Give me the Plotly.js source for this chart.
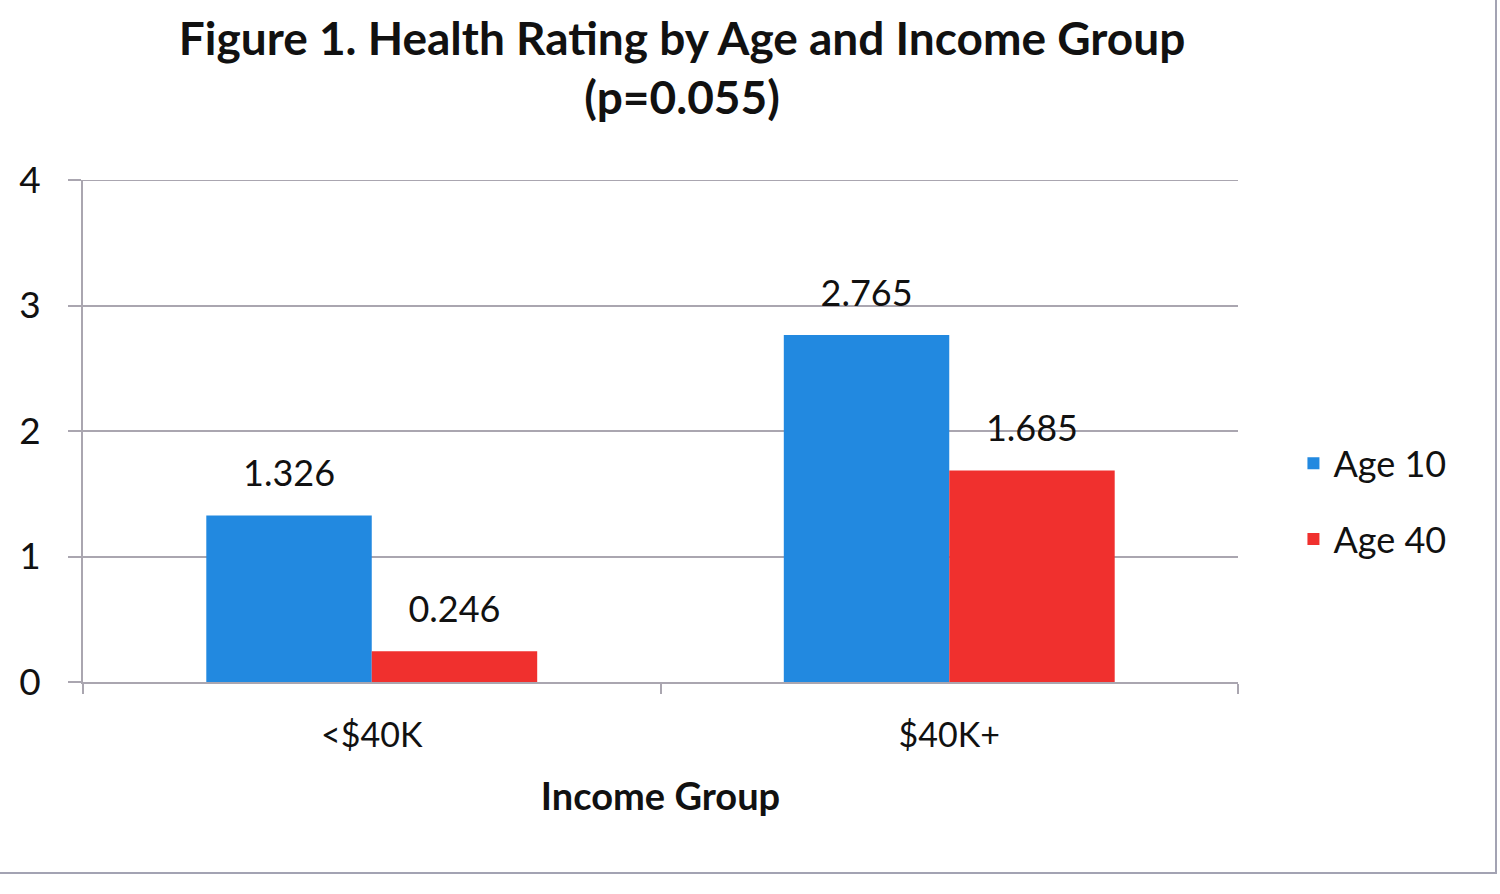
<!DOCTYPE html>
<html>
<head>
<meta charset="utf-8">
<script src="https://cdn.plot.ly/plotly-3.0.1.min.js"></script>
<style>
  html, body { margin: 0; padding: 0; background: #ffffff; }
  #wrap { position: relative; width: 1500px; height: 894px; overflow: hidden; }
  #chart { position: absolute; left: 0; top: 0; width: 1500px; height: 894px; }
  #frame { position: absolute; left: -4px; top: -4px; width: 1499px; height: 876px;
           border-right: 2px solid #a3a3b3; border-bottom: 2px solid #a3a3b3; pointer-events: none; }
</style>
</head>
<body>
<div id="wrap">
  <div id="chart"></div>
  <div id="frame"></div>
</div>
<script>
// ---- data ----
const categories = ["<$40K", "$40K+"];
const seriesNames = ["Age 10", "Age 40"];
const age10 = [1.326, 2.765];
const age40 = [0.246, 1.685];
const yTicks = [0, 1, 2, 3, 4];

const FONT = "Lato, 'Open Sans', sans-serif";
const gridCol = "#aaa6b0";

function labels(vals) {
  return vals.map(v => "<span style='font-size:36px'>" + v.toFixed(3) + "</span><br>&nbsp;");
}

const traces = [
  {
    type: "bar", name: seriesNames[0], x: categories, y: age10,
    legendgroup: "g1",
    marker: { color: "#2289e0", line: { width: 0 } },
    text: labels(age10), textposition: "outside", textfont: { family: FONT, size: 17, color: "#111111" },
    constraintext: "none", cliponaxis: false, hoverinfo: "x+y"
  },
  {
    type: "bar", name: seriesNames[1], x: categories, y: age40,
    legendgroup: "g2",
    marker: { color: "#f0302e", line: { width: 0 } },
    text: labels(age40), textposition: "outside", textfont: { family: FONT, size: 17, color: "#111111" },
    constraintext: "none", cliponaxis: false, hoverinfo: "x+y"
  }
];

const yMax = yTicks[yTicks.length - 1];

const layout = {
  width: 1500, height: 894,
  paper_bgcolor: "rgba(0,0,0,0)", plot_bgcolor: "#ffffff",
  margin: { l: 83, r: 262, t: 180, b: 212, autoexpand: false },
  font: { family: FONT, color: "#111111", size: 34 },
  title: {
    text: "Figure 1. Health Rating by Age and Income Group<br>(p=0.055)",
    font: { family: FONT, size: 46, weight: "bold", color: "#111111" },
    x: 0.4547, xanchor: "center", y: 0.939, yanchor: "top"
  },
  barmode: "group", bargap: 0.427, bargroupgap: 0,
  xaxis: {
    type: "category",
    tickson: "boundaries", ticks: "outside", ticklen: 10, tickwidth: 2, tickcolor: gridCol,
    showline: true, linecolor: gridCol, linewidth: 2,
    showgrid: false, zeroline: false,
    tickfont: { family: FONT, size: 34, color: "#111111" },
    ticklabelstandoff: 22,
    title: { text: "Income Group", font: { family: FONT, size: 38, weight: "bold", color: "#111111" }, standoff: 31 },
    automargin: false, fixedrange: true
  },
  yaxis: {
    range: [0, yMax], tickvals: yTicks, ticktext: yTicks.map(String),
    ticks: "outside", ticklen: 13, tickwidth: 2, tickcolor: gridCol,
    showline: true, linecolor: gridCol, linewidth: 2,
    showgrid: true, gridcolor: gridCol, gridwidth: 2, zeroline: false,
    tickfont: { family: FONT, size: 37, color: "#111111" },
    ticklabelstandoff: 20,
    automargin: false, fixedrange: true
  },
  shapes: [
    { type: "line", xref: "paper", yref: "y", x0: 0, x1: 1, y0: yMax, y1: yMax,
      line: { color: gridCol, width: 2 }, layer: "below" }
  ],
  showlegend: true,
  legend: {
    x: 1.048, xanchor: "left", y: 0.36, yanchor: "middle",
    font: { family: FONT, size: 36, color: "#111111" },
    tracegroupgap: 26, bgcolor: "rgba(0,0,0,0)", itemwidth: 30
  }
};

Plotly.newPlot("chart", traces, layout, { displayModeBar: false, staticPlot: true });
</script>
</body>
</html>
